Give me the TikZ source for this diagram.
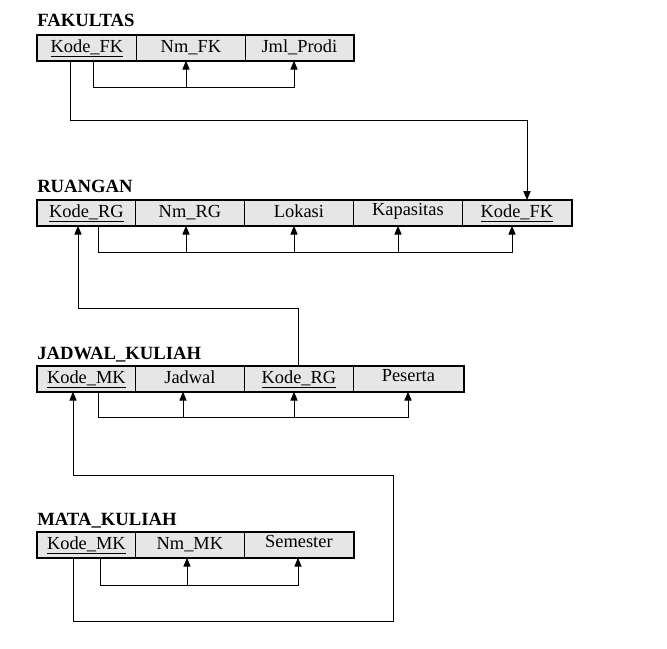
\documentclass[tikz,border=0pt]{standalone}
\usepackage{fontspec}
\setmainfont{Liberation Serif}
\usetikzlibrary{arrows.meta,calc}
\definecolor{cellgray}{RGB}{230,230,230}
\begin{document}
\begin{tikzpicture}[x=0.75pt,y=-0.75pt,
  cell/.style={draw, fill=cellgray, line width=0.6pt, anchor=north west, inner sep=0pt,
    minimum height=18.75pt, text height=9.8pt, text depth=3.2pt,
    font=\fontsize{13.8}{16}\selectfont},
  hicell/.style={cell, text height=9pt, text depth=4.6pt},
  title/.style={anchor=base west, inner sep=0pt, font=\fontsize{14}{16}\selectfont\bfseries},
  frame/.style={draw, line width=1.2pt},
  link/.style={line width=0.6pt},
  arr/.style={link, -{Triangle[width=5.4pt,length=6.6pt]}}]
\useasboundingbox (0,0) rectangle (667,649);

% FAKULTAS
\node[title] (tf) at (37,27) {FAKULTAS};
\node[cell, minimum width=74.25pt] (f1) at (37,35) {\underline{Kode\_FK}};
\node[cell, minimum width=81.75pt] (f2) at (136,35) {Nm\_FK};
\node[cell, minimum width=81pt] (f3) at (245,35) {Jml\_Prodi};
\draw[frame] (f1.north west) rectangle (f3.south east);

% RUANGAN
\node[title] (tr) at (37,192) {RUANGAN};
\node[cell, minimum width=73.5pt] (r1) at (37,200) {\underline{Kode\_RG}};
\node[cell, minimum width=81.75pt] (r2) at (135,200) {Nm\_RG};
\node[cell, minimum width=81.75pt] (r3) at (244,200) {Lokasi};
\node[hicell, minimum width=81.75pt] (r4) at (353,200) {Kapasitas};
\node[cell, minimum width=81.75pt] (r5) at (462,200) {\underline{Kode\_FK}};
\draw[frame] (r1.north west) rectangle (r5.south east);

% JADWAL_KULIAH
\node[title] (tj) at (37,359) {JADWAL\_KULIAH};
\node[cell, minimum width=73.5pt] (j1) at (37,366) {\underline{Kode\_MK}};
\node[cell, minimum width=81.75pt] (j2) at (135,366) {Jadwal};
\node[cell, minimum width=81.75pt] (j3) at (244,366) {\underline{Kode\_RG}};
\node[hicell, minimum width=82.5pt] (j4) at (353,366) {Peserta};
\draw[frame] (j1.north west) rectangle (j4.south east);

% MATA_KULIAH
\node[title] (tm) at (37,525) {MATA\_KULIAH};
\node[cell, minimum width=73.5pt] (m1) at (37,532) {\underline{Kode\_MK}};
\node[cell, minimum width=81.75pt] (m2) at (135,532) {Nm\_MK};
\node[hicell, minimum width=81.75pt] (m3) at (244,532) {Semester};
\draw[frame] (m1.north west) rectangle (m3.south east);

% FAKULTAS internal dependencies
\draw[arr] ($(f1.south west)+(56,0)$) -- ++(0,27) -| ($(f3.south west)+(49,0)$);
\draw[arr] ($(f2.south west)+(50,27)$) -- ($(f2.south west)+(50,0)$);

% FAKULTAS -> RUANGAN
\draw[arr] ($(f1.south west)+(33,0)$) -- ++(0,60) -| ($(r5.north west)+(65,0)$);

% RUANGAN internal
\draw[arr] ($(r1.south west)+(61,0)$) -- ++(0,27) -| ($(r5.south west)+(50,0)$);
\draw[arr] ($(r2.south west)+(51,27)$) -- ($(r2.south west)+(51,0)$);
\draw[arr] ($(r3.south west)+(50,27)$) -- ($(r3.south west)+(50,0)$);
\draw[arr] ($(r4.south west)+(45,27)$) -- ($(r4.south west)+(45,0)$);

% JADWAL -> RUANGAN
\draw[arr] ($(j3.north west)+(54,0)$) -- ++(0,-58) -| ($(r1.south west)+(41,0)$);

% JADWAL internal
\draw[arr] ($(j1.south west)+(61,0)$) -- ++(0,26) -| ($(j4.south west)+(55,0)$);
\draw[arr] ($(j2.south west)+(48,26)$) -- ($(j2.south west)+(48,0)$);
\draw[arr] ($(j3.south west)+(50,26)$) -- ($(j3.south west)+(50,0)$);

% MATA_KULIAH internal
\draw[arr] ($(m1.south west)+(63,0)$) -- ++(0,28) -| ($(m3.south west)+(54,0)$);
\draw[arr] ($(m2.south west)+(52,28)$) -- ($(m2.south west)+(52,0)$);

% MATA_KULIAH -> JADWAL
\draw[arr] ($(m1.south west)+(36,0)$) -- ++(0,64) -- ++(320,0) -- ++(0,-146) -| ($(j1.south west)+(36,0)$);
\end{tikzpicture}
\end{document}
